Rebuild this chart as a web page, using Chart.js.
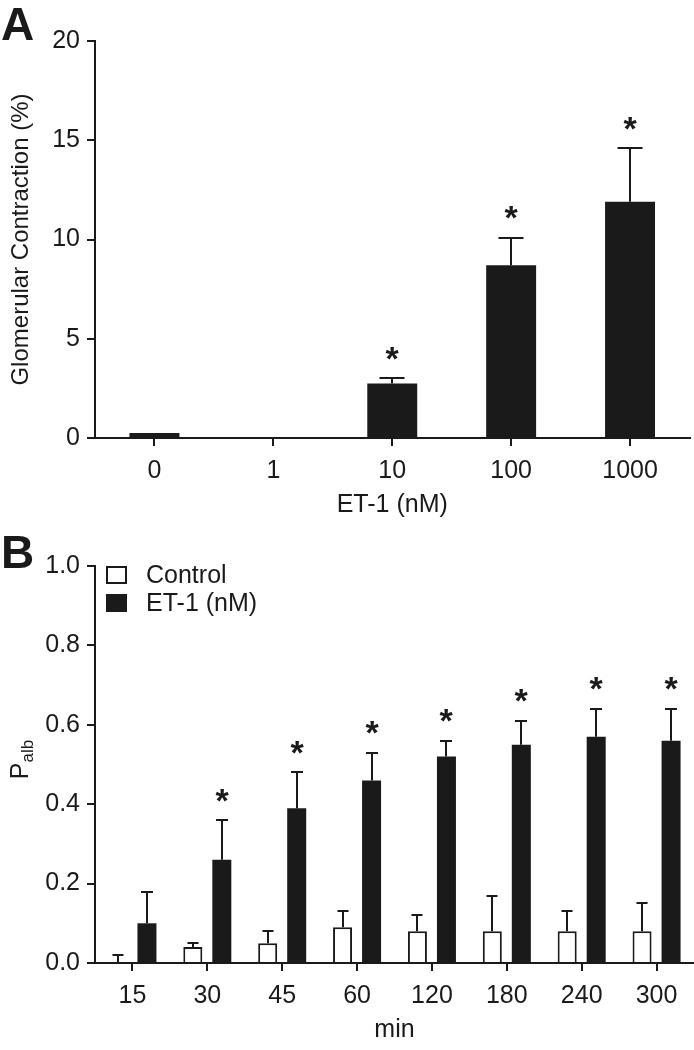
<!DOCTYPE html>
<html><head><meta charset="utf-8">
<script src="https://cdn.jsdelivr.net/npm/chart.js@4.4.1/dist/chart.umd.min.js"></script>
<style>
html,body{margin:0;padding:0;background:#fff;}
.panel{position:absolute;left:0;width:694px;height:525px;}
</style></head><body>
<div class="panel" style="top:0"><canvas id="cA" width="694" height="525"></canvas></div>
<div class="panel" style="top:525px"><canvas id="cB" width="694" height="525"></canvas></div>
<script>
const FONT = '"Liberation Sans", Arial, Helvetica, sans-serif';
const INK = '#1a1a1a';

// ---- Panel A data ----
const concA = ['0', '1', '10', '100', '1000'];
const contractionMean = [0.25, 0.05, 2.75, 8.7, 11.9];
const contractionErr = [0, 0, 0.27, 1.4, 2.7];
const contractionSig = [false, false, true, true, true];
const yTicksA = [0, 5, 10, 15, 20];

// ---- Panel B data ----
const timesB = ['15', '30', '45', '60', '120', '180', '240', '300'];
const controlMean = [0.0, 0.04, 0.05, 0.09, 0.08, 0.08, 0.08, 0.08];
const controlErr = [0.02, 0.01, 0.03, 0.04, 0.04, 0.09, 0.05, 0.07];
const et1Mean = [0.10, 0.26, 0.39, 0.46, 0.52, 0.55, 0.57, 0.56];
const et1Err = [0.08, 0.10, 0.09, 0.07, 0.04, 0.06, 0.07, 0.08];
const et1Sig = [false, true, true, true, true, true, true, true];
const yTicksB = [0, 0.2, 0.4, 0.6, 0.8, 1.0];

function drawErrors(chart, dsIndex, means, errs, sig, capW) {
  const ctx = chart.ctx, ys = chart.scales.y;
  const meta = chart.getDatasetMeta(dsIndex);
  ctx.save();
  ctx.strokeStyle = INK; ctx.lineWidth = 2; ctx.lineCap = 'butt';
  meta.data.forEach((bar, i) => {
    const x = Math.round(bar.x);
    const yTop = ys.getPixelForValue(means[i]);
    const yErr = ys.getPixelForValue(means[i] + errs[i]);
    if (errs[i] > 0) {
      ctx.beginPath();
      ctx.moveTo(x, yTop); ctx.lineTo(x, yErr);
      ctx.moveTo(x - capW / 2, Math.round(yErr)); ctx.lineTo(x + capW / 2, Math.round(yErr));
      ctx.stroke();
    }
    if (sig && sig[i]) {
      ctx.font = 'bold 34px ' + FONT; ctx.fillStyle = INK;
      ctx.textAlign = 'center'; ctx.textBaseline = 'alphabetic';
      const m = ctx.measureText('*');
      const cy = yErr - 25;
      ctx.fillText('*', x, cy + (m.actualBoundingBoxAscent - m.actualBoundingBoxDescent) / 2);
    }
  });
  ctx.restore();
}

function drawStubAndLetter(chart, letter, baseY) {
  const {ctx, chartArea} = chart;
  ctx.save();
  ctx.strokeStyle = INK; ctx.lineWidth = 2;
  ctx.beginPath();
  ctx.moveTo(chartArea.left - 7, Math.round(chartArea.bottom));
  ctx.lineTo(chartArea.left + 1, Math.round(chartArea.bottom));
  ctx.stroke();
  ctx.font = 'bold 46px ' + FONT; ctx.fillStyle = INK;
  ctx.textAlign = 'left'; ctx.textBaseline = 'alphabetic';
  ctx.fillText(letter, 1, baseY);
  ctx.restore();
}

function xScale(title) {
  return {
    type: 'category', offset: true, z: 1,
    grid: {display: true, drawOnChartArea: false, drawTicks: true, tickLength: 8, tickWidth: 2,
           tickColor: INK, offset: false, color: INK, lineWidth: 2},
    border: {display: true, color: INK, width: 2},
    ticks: {color: INK, font: {size: 25, family: FONT}, padding: 10, maxRotation: 0, autoSkip: false},
    title: {display: true, text: title, color: INK, font: {size: 25, family: FONT}, padding: {top: 0, bottom: 5}},
    afterFit(s) { s.height = 87; }
  };
}
function yScale(ticksArr, title, fmt) {
  return {
    min: ticksArr[0], max: ticksArr[ticksArr.length - 1], z: 1,
    grid: {display: true, drawOnChartArea: false, drawTicks: true, tickLength: 8, tickWidth: 2,
           tickColor: INK, color: INK, lineWidth: 2},
    border: {display: true, color: INK, width: 2},
    ticks: {stepSize: ticksArr[1] - ticksArr[0], padding: 7, color: INK,
            font: {size: 25, family: FONT}, callback: fmt},
    title: title ? {display: true, text: title, color: INK, font: {size: 24, family: FONT}, padding: {top: 7, bottom: 0}} : {display: false},
    afterFit(s) { s.width = 95; }
  };
}

Chart.defaults.font.family = FONT;

new Chart(document.getElementById('cA'), {
  type: 'bar',
  data: {
    labels: concA,
    datasets: [{label: 'ET-1', data: contractionMean, backgroundColor: INK, borderWidth: 0,
                barPercentage: 0.42, categoryPercentage: 1.0}]
  },
  options: {
    responsive: false, animation: false, devicePixelRatio: 1,
    layout: {padding: {top: 41, right: 4.5, bottom: 0, left: 0}},
    plugins: {legend: {display: false}, tooltip: {enabled: false}},
    scales: {
      x: xScale('ET-1 (nM)'),
      y: yScale(yTicksA, 'Glomerular Contraction (%)', v => String(v))
    }
  },
  plugins: [{
    id: 'extrasA',
    afterDatasetsDraw(chart) { drawErrors(chart, 0, contractionMean, contractionErr, contractionSig, 25); },
    afterDraw(chart) { drawStubAndLetter(chart, 'A', 40); }
  }]
});

new Chart(document.getElementById('cB'), {
  type: 'bar',
  data: {
    labels: timesB,
    datasets: [
      {label: 'Control', data: controlMean, backgroundColor: '#ffffff', borderColor: INK, borderWidth: 2,
       barPercentage: 0.655, categoryPercentage: 0.775},
      {label: 'ET-1 (nM)', data: et1Mean, backgroundColor: INK, borderColor: INK, borderWidth: 0,
       barPercentage: 0.655, categoryPercentage: 0.775}
    ]
  },
  options: {
    responsive: false, animation: false, devicePixelRatio: 1,
    layout: {padding: {top: 41, right: 0, bottom: 0, left: 0}},
    plugins: {legend: {display: false}, tooltip: {enabled: false}},
    scales: {
      x: xScale('min'),
      y: yScale(yTicksB, null, v => Number(v).toFixed(1))
    }
  },
  plugins: [{
    id: 'extrasB',
    afterDatasetsDraw(chart) {
      drawErrors(chart, 0, controlMean, controlErr, null, 11);
      drawErrors(chart, 1, et1Mean, et1Err, et1Sig, 12);
    },
    afterDraw(chart) {
      drawStubAndLetter(chart, 'B', 43);
      const {ctx, chartArea} = chart;
      ctx.save();
      // legend
      const ds = chart.data.datasets;
      const bx = chartArea.left + 11, bw = 21, bh = 18;
      const rows = [chartArea.top + 0, chartArea.top + 28];
      ds.forEach((d, i) => {
        const by = rows[i];
        ctx.fillStyle = d.backgroundColor;
        ctx.fillRect(bx, by, bw, bh);
        if (d.borderWidth) {
          ctx.strokeStyle = INK; ctx.lineWidth = 2;
          ctx.strokeRect(bx + 1, by + 1, bw - 2, bh - 2);
        }
        ctx.fillStyle = INK; ctx.font = '25px ' + FONT;
        ctx.textAlign = 'left'; ctx.textBaseline = 'middle';
        ctx.fillText(d.label, bx + bw + 19, by + bh / 2 + 1);
      });
      // y-axis title P_alb
      const cy = (chartArea.top + chartArea.bottom) / 2 - 5;
      ctx.translate(21, cy);
      ctx.rotate(-Math.PI / 2);
      ctx.font = '25px ' + FONT;
      const wP = ctx.measureText('P').width;
      ctx.font = '17px ' + FONT;
      const wS = ctx.measureText('alb').width;
      const start = -(wP + wS) / 2;
      ctx.fillStyle = INK; ctx.textAlign = 'left'; ctx.textBaseline = 'middle';
      ctx.font = '25px ' + FONT;
      ctx.fillText('P', start, 0);
      ctx.font = '17px ' + FONT;
      ctx.fillText('alb', start + wP, 7);
      ctx.restore();
    }
  }]
});
</script>
</body></html>
